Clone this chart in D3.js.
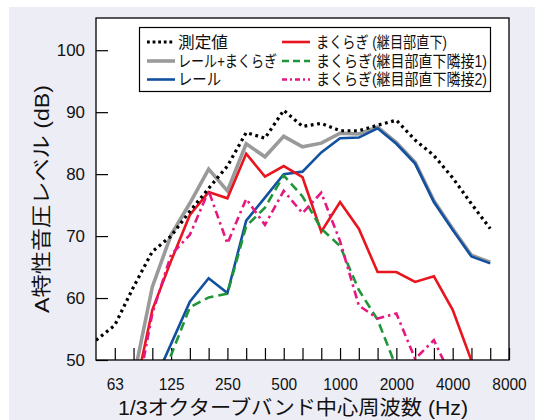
<!DOCTYPE html>
<html><head><meta charset="utf-8">
<script src="https://cdn.jsdelivr.net/npm/d3@7"></script>
<style>
html,body{margin:0;padding:0;background:#fff;}
svg{display:block;}
</style></head>
<body>
<svg id="chart" width="542" height="420"></svg>
<script>
// 1/3 octave band centre frequencies (index 0 = 50 Hz ... 22 = 8000 Hz)
const bands = [50,63,80,100,125,160,200,250,315,400,500,630,800,1000,1250,1600,2000,2500,3150,4000,5000,6300,8000];
const tickLabels = ["63","125","250","500","1000","2000","4000","8000"];
const yTicks = [50,60,70,80,90,100];

// series: [bandIndex, dB]
const measured = [[0,53.2],[1,55.6],[2,61.8],[3,67.5],[4,70.0],[5,74.0],[6,77.7],[7,81.3],[8,86.7],[9,85.8],[10,90.3],[11,87.7],[12,88.2],[13,87.0],[14,87.0],[15,87.9],[16,88.7],[17,85.5],[18,83.0],[19,79.4],[20,75.2],[21,71.2]];
const railSleeper = [[2,47.0],[3,61.8],[4,70.2],[5,75.3],[6,80.8],[7,77.3],[8,84.9],[9,82.8],[10,86.1],[11,84.4],[12,85.0],[13,86.6],[14,86.5],[15,87.6],[16,85.1],[17,81.9],[18,75.7],[19,71.2],[20,66.9],[21,65.8]];
const rail = [[3,45.8],[4,52.6],[5,59.4],[6,63.2],[7,60.8],[8,72.5],[9,76.2],[10,80.0],[11,80.4],[12,83.5],[13,85.8],[14,85.9],[15,87.4],[16,84.9],[17,81.7],[18,75.5],[19,71.0],[20,66.7],[21,65.6]];
const sleeperJoint = [[2,43.8],[3,58.1],[4,66.0],[5,73.4],[6,77.1],[7,76.1],[8,83.3],[9,79.6],[10,81.3],[11,79.5],[12,70.7],[13,75.5],[14,71.2],[15,64.2],[16,64.2],[17,62.6],[18,63.5],[19,58.1],[20,49.9]];
const sleeperAdj1 = [[3,42.0],[4,50.8],[5,58.5],[6,60.1],[7,60.7],[8,71.6],[9,74.6],[10,79.8],[11,76.4],[12,71.2],[13,68.4],[14,61.3],[15,56.5],[16,48.8]];
const sleeperAdj2 = [[2,41.5],[3,57.5],[4,67.0],[5,70.2],[6,77.3],[7,68.8],[8,76.0],[9,71.8],[10,77.3],[11,73.7],[12,77.0],[13,69.2],[14,58.8],[15,56.7],[16,57.5],[17,50.2],[18,53.2],[19,46.8]];

const legendNames = ["測定値","レール+まくらぎ","レール","まくらぎ (継目部直下)","まくらぎ(継目部直下隣接1)","まくらぎ(継目部直下隣接2)"];

const svg = d3.select("#chart");
const plot = {l:96, r:509, t:18, b:360};

// background panel
svg.append("rect").attr("x",9).attr("y",7).attr("width",526).attr("height",413).attr("fill","#ededf6");
svg.append("rect").attr("x",plot.l).attr("y",plot.t).attr("width",plot.r-plot.l).attr("height",plot.b-plot.t).attr("fill","#fff");

const x = d3.scaleLinear().domain([0,22]).range([plot.l,plot.r]);
const y = d3.scaleLinear().domain([50,105.2]).range([plot.b,plot.t]);

const numFont = "'Liberation Sans', Arial, sans-serif";
const jpFont = "'Liberation Sans', 'Noto Sans CJK JP', sans-serif";

// axes
const xAxis = d3.axisBottom(x)
  .tickValues(d3.range(1,23))
  .tickSizeInner(-12).tickSizeOuter(0).tickPadding(18)
  .tickFormat(i => tickLabels.includes(String(bands[i])) ? String(bands[i]) : "");
const gx = svg.append("g").attr("transform",`translate(0,${plot.b})`).call(xAxis);
gx.select(".domain").remove();
gx.selectAll("line").attr("stroke","#000").attr("stroke-width",1.2);
gx.selectAll("text").filter(function(){ return this.textContent === ""; }).remove();
gx.selectAll("text").attr("font-family",numFont).attr("font-size",17).attr("fill","#111")
  .attr("textLength", function(){ return this.textContent.length*8.6; }).attr("lengthAdjust","spacingAndGlyphs");

const yAxis = d3.axisLeft(y).tickValues(yTicks).tickSizeInner(-12).tickSizeOuter(0).tickPadding(11);
const gy = svg.append("g").attr("transform",`translate(${plot.l},0)`).call(yAxis);
gy.select(".domain").remove();
gy.selectAll("line").attr("stroke","#000").attr("stroke-width",1.2);
gy.selectAll("text").attr("font-family",numFont).attr("font-size",17).attr("fill","#111")
  .attr("textLength", d => String(d).length*9.4).attr("lengthAdjust","spacingAndGlyphs");

// clip
svg.append("clipPath").attr("id","clip").append("rect")
  .attr("x",plot.l).attr("y",plot.t).attr("width",plot.r-plot.l).attr("height",plot.b-plot.t);

const line = d3.line().x(d=>x(d[0])).y(d=>y(d[1]));
const series = [
  {data:railSleeper, color:"#9a9a9a", w:3.6, dash:null},
  {data:rail, color:"#1250a0", w:2.6, dash:null},
  {data:sleeperJoint, color:"#e8141e", w:2.6, dash:null},
  {data:sleeperAdj1, color:"#1e9638", w:2.6, dash:"9,5"},
  {data:sleeperAdj2, color:"#e6177f", w:2.6, dash:"8,4,2.5,4"},
  {data:measured, color:"#000", w:3.2, dash:"2.8,3.6"}
];
const gl = svg.append("g").attr("clip-path","url(#clip)");
series.forEach(s=>{
  gl.append("path").datum(s.data).attr("d",line).attr("fill","none")
    .attr("stroke",s.color).attr("stroke-width",s.w)
    .attr("stroke-linejoin","miter")
    .attr("stroke-dasharray",s.dash);
});

// frame
svg.append("rect").attr("x",plot.l).attr("y",plot.t).attr("width",plot.r-plot.l).attr("height",plot.b-plot.t)
  .attr("fill","none").attr("stroke","#000").attr("stroke-width",1.3);

// legend
const lg = svg.append("g");
lg.append("rect").attr("x",139.5).attr("y",27.5).attr("width",351).attr("height",64).attr("fill","#fff").attr("stroke","#000").attr("stroke-width",1.2);
const legendStyle = [series[5], series[0], series[1], series[2], series[3], series[4]];
const legendDash = [ "2.8,2.8", null, null, null, "7,4", "5,3,2,3" ];
const legendTextW = [50, 99, 43, 131, 171, 171];
const rowsY = [42, 61, 79.5];
legendNames.forEach((name,i)=>{
  const col = i<3 ? 0 : 1, row = i%3;
  const lx = col===0 ? 147 : 282;
  const tx = col===0 ? 178 : 316;
  const cy = rowsY[row];
  const s = legendStyle[i];
  lg.append("line").attr("x1",lx).attr("x2",lx+28).attr("y1",cy).attr("y2",cy)
    .attr("stroke",s.color).attr("stroke-width",s.w)
    .attr("stroke-dasharray",legendDash[i]);
  lg.append("text").attr("x",tx).attr("y",cy+5.6).text(name)
    .attr("font-family",jpFont).attr("font-size",16).attr("fill","#111")
    .attr("textLength",legendTextW[i]).attr("lengthAdjust","spacingAndGlyphs");
});

// axis titles
svg.append("text").attr("x",293).attr("y",415).attr("text-anchor","middle")
  .attr("font-family",jpFont).attr("font-size",20).attr("fill","#111")
  .attr("textLength",350).attr("lengthAdjust","spacingAndGlyphs")
  .text("1/3オクターブバンド中心周波数 (Hz)");
svg.append("text").attr("transform","translate(49,199) rotate(-90)").attr("text-anchor","middle")
  .attr("font-family",jpFont).attr("font-size",20).attr("fill","#111")
  .attr("textLength",228).attr("lengthAdjust","spacingAndGlyphs")
  .text("A特性音圧レベル (dB)");
</script>
</body></html>
